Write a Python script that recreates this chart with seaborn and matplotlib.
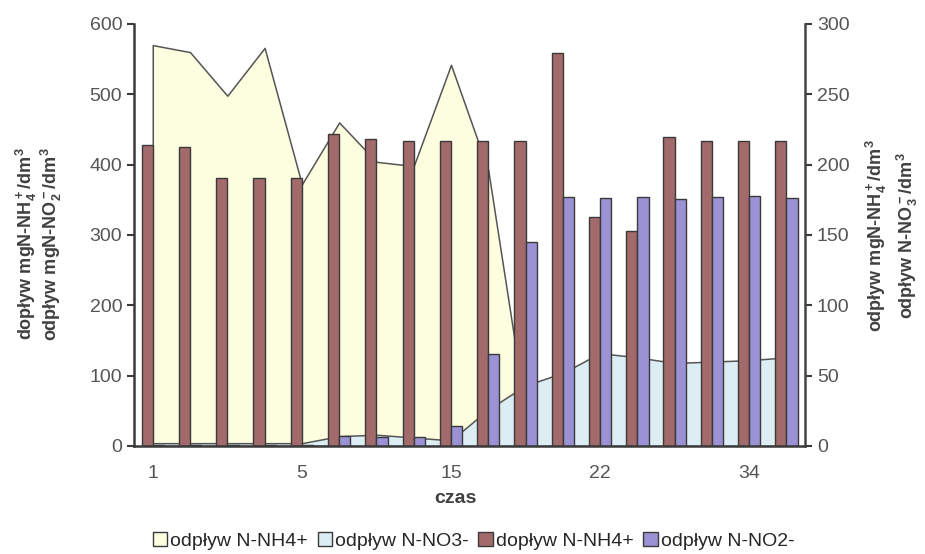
import matplotlib
matplotlib.use('Agg')
import matplotlib.pyplot as plt
from matplotlib.patches import Patch
import seaborn as sns
import pandas as pd
import numpy as np

# category axis (every 4th label is printed on the chart)
czas = ['1', '2', '3', '4', '5', '7', '9', '12', '15', '17', '19', '20', '22', '25', '28', '31', '34', '36']
czas_shown = ['1', '5', '15', '22', '34']

# left axis (bars)
doplyw_nh4 = [428, 425, 381, 381, 381, 443, 437, 433, 433, 433, 433, 559, 326, 305, 439, 434, 434, 434]
odplyw_no2 = [1, 1, 1, 1, 1, 14, 13, 13, 28, 131, 290, 354, 352, 354, 351, 354, 356, 353]

# right axis (areas)
odplyw_nh4 = [285, 280, 249, 283, 186, 230, 202, 199, 271, 196, 25, 5, 4, 4, 4, 4, 4, 4]
odplyw_no3 = [2, 2, 2, 2, 2, 7, 8, 6, 4, 26, 43, 52, 66, 63, 59, 60, 61, 63]

c_yellow = '#fdfde0'
c_blue = '#dcedf3'
c_brown = '#a26a6a'
c_purple = '#9a92d4'
c_edge = '#3a3a3a'
c_text = '#555555'

sns.set_style('white')
plt.rcParams['font.family'] = ['Liberation Sans', 'DejaVu Sans']
plt.rcParams['mathtext.fontset'] = 'custom'
plt.rcParams['mathtext.bf'] = 'Liberation Sans:bold'
plt.rcParams['mathtext.rm'] = 'Liberation Sans:bold'
plt.rcParams['mathtext.default'] = 'bf'

fig = plt.figure(figsize=(9.25, 5.54), dpi=100)
ax = fig.add_axes([0.145, 0.195, 0.7254, 0.7617])
ax2 = ax.twinx()

x = np.arange(len(czas))

# areas on the right axis
ax2.fill_between(x, odplyw_nh4, 0, facecolor=c_yellow, edgecolor='#555555', linewidth=1.1, zorder=1)
ax2.fill_between(x, odplyw_no3, 0, facecolor=c_blue, edgecolor='#555555', linewidth=1.1, zorder=2)
ax2.set_ylim(0, 300)
ax2.set_yticks(range(0, 301, 50))

# bars on the left axis
bars = pd.DataFrame({
    'czas': list(range(len(czas))) * 2,
    'wartosc': doplyw_nh4 + odplyw_no2,
    'seria': ['dopływ N-NH4+'] * len(czas) + ['odpływ N-NO2-'] * len(czas),
})
sns.barplot(data=bars, x='czas', y='wartosc', hue='seria', palette=[c_brown, c_purple],
            width=0.6, gap=0, edgecolor=c_edge, linewidth=1, errorbar=None,
            legend=False, ax=ax, saturation=1)
ax.set_ylim(0, 600)
ax.set_yticks(range(0, 601, 100))
ax.set_xlim(-0.5, len(czas) - 0.5)
ax2.set_xlim(-0.5, len(czas) - 0.5)

ax.set_zorder(ax2.get_zorder() + 1)
ax.patch.set_visible(False)

# x ticks: labels every 4th category, marks between categories
ax.set_xticks(x[::4])
ax.set_xticklabels(czas_shown)
ax.set_xticks(np.arange(0.5, len(czas) - 0.5, 1), minor=True)
ax.tick_params(axis='x', which='major', length=0, pad=14, labelsize=14, labelcolor=c_text)
ax.tick_params(axis='x', which='minor', direction='inout', length=9, width=1.5, color=c_edge)
ax.tick_params(axis='y', direction='out', length=5, width=1.5, color=c_edge, labelsize=14,
               labelcolor=c_text, left=True)
ax2.tick_params(axis='y', direction='out', length=5, width=1.5, color=c_edge, labelsize=14,
                labelcolor=c_text, right=True)
ax.set_xlabel('')
ax.set_ylabel('')

for s in ['top', 'right']:
    ax.spines[s].set_visible(False)
for s in ['top', 'left', 'bottom']:
    ax2.spines[s].set_visible(False)
for s in ['left', 'bottom']:
    ax.spines[s].set_color(c_edge)
    ax.spines[s].set_linewidth(1.8)
ax2.spines['right'].set_color('#444444')
ax2.spines['right'].set_linewidth(1.8)

# axis titles
lab = dict(rotation=90, ha='center', va='center', fontsize=13, color='#404040', fontweight='bold')
fig.text(0.029, 0.56, r'dopływ mgN-NH$_4^+$/dm$^3$', **lab)
fig.text(0.056, 0.56, r'odpływ mgN-NO$_2^-$/dm$^3$', **lab)
fig.text(0.947, 0.575, r'odpływ mgN-NH$_4^+$/dm$^3$', **lab)
fig.text(0.981, 0.575, r'odpływ N-NO$_3^-$/dm$^3$', **lab)
fig.text(0.492, 0.1, 'czas', ha='center', va='center', fontsize=14,
         fontweight='bold', color='#404040')

handles = [
    Patch(facecolor=c_yellow, edgecolor=c_edge, linewidth=1, label='odpływ N-NH4+'),
    Patch(facecolor=c_blue, edgecolor=c_edge, linewidth=1, label='odpływ N-NO3-'),
    Patch(facecolor=c_brown, edgecolor=c_edge, linewidth=1, label='dopływ N-NH4+'),
    Patch(facecolor=c_purple, edgecolor=c_edge, linewidth=1, label='odpływ N-NO2-'),
]
fig.legend(handles=handles, loc='center', bbox_to_anchor=(0.512, 0.024), ncol=4,
           frameon=False, fontsize=14, handlelength=0.75, handleheight=0.75,
           handletextpad=0.15, columnspacing=0.5, borderpad=0)

fig.savefig('out.png', dpi=100)
